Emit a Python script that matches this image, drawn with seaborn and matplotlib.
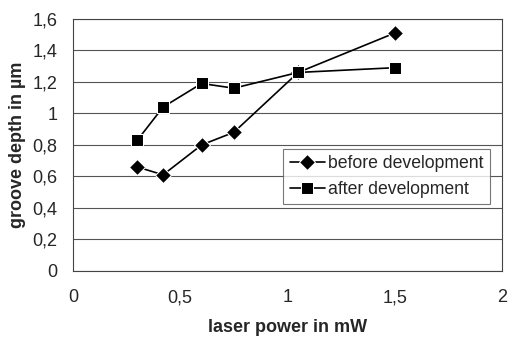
import matplotlib
matplotlib.use("Agg")
import matplotlib.pyplot as plt
import seaborn as sns
import pandas as pd

laser_power = [0.3, 0.42, 0.6, 0.75, 1.05, 1.5]
before_dev = [0.66, 0.61, 0.80, 0.88, 1.26, 1.51]
after_dev = [0.83, 1.04, 1.19, 1.16, 1.26, 1.29]
x_ticks = [0, 0.5, 1, 1.5, 2]
x_ticklabels = ["0", "0,5", "1", "1,5", "2"]
y_ticks = [0, 0.2, 0.4, 0.6, 0.8, 1.0, 1.2, 1.4, 1.6]
y_ticklabels = ["0", "0,2", "0,4", "0,6", "0,8", "1", "1,2", "1,4", "1,6"]

sns.set_theme(style="white")
plt.rcParams["font.family"] = ["Liberation Sans", "DejaVu Sans"]

df = pd.DataFrame({
    "x": laser_power * 2,
    "y": before_dev + after_dev,
    "series": ["before development"] * len(laser_power) + ["after development"] * len(laser_power),
})

fig = plt.figure(figsize=(5.08, 3.37), dpi=100)
ax = fig.add_axes([0.1437, 0.196, 0.988 - 0.1437, 0.944 - 0.196])

sns.lineplot(data=df, x="x", y="y", hue="series", style="series",
             markers={"before development": "D", "after development": "s"},
             dashes=False, palette={"before development": "black", "after development": "black"},
             markersize=8, linewidth=1.2, ax=ax, sort=False)

ax.set_xlim(0, 2)
ax.set_ylim(0, 1.6)
ax.set_xticks(x_ticks)
ax.set_xticklabels(x_ticklabels, fontsize=13)
ax.set_yticks(y_ticks)
ax.set_yticklabels(y_ticklabels, fontsize=13)
ax.yaxis.grid(True, color="#555555", linewidth=0.8)
ax.xaxis.grid(False)
ax.set_axisbelow(True)
for s in ax.spines.values():
    s.set_color("#444444")
    s.set_linewidth(0.8)
ax.tick_params(axis="x", length=0, pad=13)
ax.tick_params(axis="y", length=0, pad=11)
ax.set_xlabel("laser power in mW", fontsize=13, fontweight="bold", labelpad=9)
ax.set_ylabel("groove depth in µm", fontsize=13, fontweight="bold", labelpad=5)

leg = ax.legend(loc="upper left", bbox_to_anchor=(0.47, 0.52), fontsize=12.7,
                frameon=True, fancybox=False, edgecolor="#555555",
                handlelength=2.0, handletextpad=0.2, borderpad=0.35, labelspacing=0.5)
leg.get_frame().set_linewidth(0.8)

fig.savefig("out.png", dpi=100)
